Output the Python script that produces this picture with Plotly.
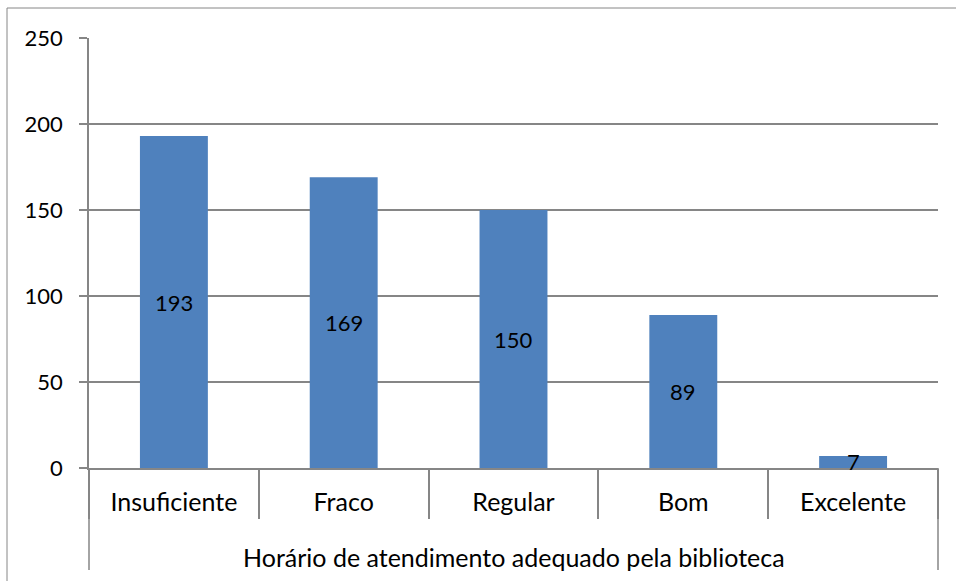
import plotly.graph_objects as go

categories = ["Insuficiente", "Fraco", "Regular", "Bom", "Excelente"]
values = [193, 169, 150, 89, 7]
axis_title = "Horário de atendimento adequado pela biblioteca"
y_ticks = [0, 50, 100, 150, 200, 250]

GRAY = "#868686"
BAR = "#4F81BD"
FONT = "Lato"
FS_NUM = 22
FS_TXT = 25

W, H = 956, 581
ML, MR, MT, MB = 89, 18, 38, 113
PW, PH = W - ML - MR, H - MT - MB

def py(px):
    # pixel offset below the x axis -> paper y
    return -px / PH

def pxx(px):
    return (px - ML) / PW

fig = go.Figure()
fig.add_trace(go.Bar(
    x=categories, y=values, marker=dict(color=BAR, line=dict(width=0)),
    width=0.4, hoverinfo="x+y",
))
# helper trace so the divider axis knows the categories
fig.add_trace(go.Scatter(x=categories, y=[None] * len(categories), xaxis="x2",
                         mode="markers", showlegend=False, hoverinfo="skip"))

# value labels centred in each bar
for c, v in zip(categories, values):
    fig.add_annotation(x=c, y=v / 2, text=str(v), showarrow=False,
                       font=dict(family=FONT, size=FS_NUM, color="black"),
                       xanchor="center", yanchor="middle")

# category title
fig.add_annotation(x=0.5, y=py(89), xref="paper", yref="paper", text=axis_title,
                   showarrow=False, font=dict(family=FONT, size=FS_TXT, color="black"),
                   xanchor="center", yanchor="middle")

shapes = []
# outer border of the chart area (only left/top visible)
shapes.append(dict(type="rect", xref="paper", yref="paper",
                   x0=pxx(7), x1=pxx(2000), y0=-3, y1=1 + 30 / PH,
                   line=dict(color=GRAY, width=1)))
# long outer dividers below the axis
for xp in (0, 1):
    shapes.append(dict(type="line", xref="paper", yref="paper", x0=xp, x1=xp,
                       y0=0, y1=py(102), line=dict(color=GRAY, width=1.5)))
fig.update_layout(shapes=shapes)

fig.update_xaxes(
    type="category", categoryorder="array", categoryarray=categories,
    range=[-0.5, len(categories) - 0.5],
    showline=True, linecolor=GRAY, linewidth=1.5, ticks="",
    tickfont=dict(family=FONT, size=FS_TXT, color="black"),
    ticklabelstandoff=11, showgrid=False, fixedrange=True,
)
fig.update_layout(xaxis2=dict(
    type="category", categoryorder="array", categoryarray=categories,
    range=[-0.5, len(categories) - 0.5], overlaying="x", anchor="y", side="bottom",
    ticks="outside", tickson="boundaries", ticklen=50, tickcolor=GRAY, tickwidth=1.5,
    showticklabels=False, showline=False, showgrid=False, zeroline=False, fixedrange=True,
))
fig.update_yaxes(
    range=[0, 250], tickvals=y_ticks, showgrid=True, gridcolor=GRAY, gridwidth=1.5,
    showline=True, linecolor=GRAY, linewidth=1.5, zeroline=False,
    ticks="outside", ticklen=8, tickcolor=GRAY, tickwidth=1.5,
    tickfont=dict(family=FONT, size=FS_NUM, color="black"),
    ticklabelstandoff=12, fixedrange=True,
)
fig.update_layout(
    width=W, height=H, margin=dict(l=ML, r=MR, t=MT, b=MB, autoexpand=False),
    paper_bgcolor="white", plot_bgcolor="white", showlegend=False,
    font=dict(family=FONT, size=FS_NUM, color="black"),
)
fig.write_html("out.html", config={"displayModeBar": False},
               post_script="document.body.style.margin='0';")
